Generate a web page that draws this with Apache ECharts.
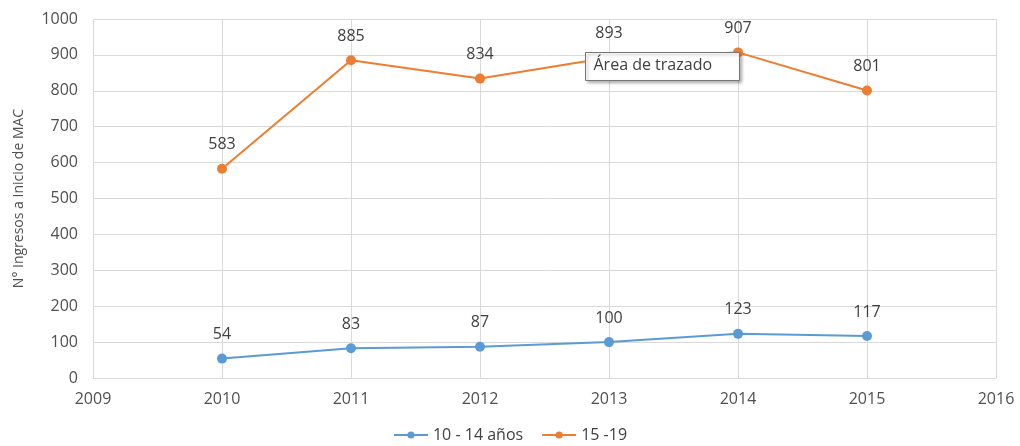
<!DOCTYPE html>
<html>
<head>
<meta charset="utf-8">
<script src="https://cdn.jsdelivr.net/npm/echarts@6/dist/echarts.min.js"></script>
<style>
  html, body { margin: 0; padding: 0; background: #fff; }
  #main { width: 1020px; height: 446px; }
</style>
</head>
<body>
<div id="main"></div>
<script>
// datos
var years = [2010, 2011, 2012, 2013, 2014, 2015];
var serie10a14 = [54, 83, 87, 100, 123, 117];
var serie15a19 = [583, 885, 834, 893, 907, 801];
var nombres = ['10 - 14 años', '15 -19'];

var myChart = echarts.init(document.getElementById('main'));

function pares(vals) {
    return years.map(function (y, i) { return [y, vals[i]]; });
}

var etiqueta = {
    show: true,
    position: 'top',
    distance: 11,
    color: '#404040',
    fontSize: 16,
    fontFamily: 'Open Sans',
    formatter: function (p) { return String(p.value[1]); }
};

var option = {
    backgroundColor: '#fff',
    textStyle: { fontFamily: 'Open Sans' },
    grid: { left: 93, right: 24, top: 19, bottom: 68 },
    legend: {
        bottom: -2,
        left: 'center',
        itemWidth: 34,
        itemHeight: 9,
        itemGap: 18,
        textStyle: { color: '#404040', fontSize: 16 },
        data: nombres
    },
    xAxis: {
        type: 'value',
        min: 2009,
        max: 2016,
        interval: 1,
        axisLine: { show: true, lineStyle: { color: '#d9d9d9' } },
        axisTick: { show: false },
        splitLine: { show: true, lineStyle: { color: '#d9d9d9' } },
        axisLabel: { color: '#505050', fontSize: 16, margin: 13, formatter: function (v) { return String(v); } }
    },
    yAxis: {
        type: 'value',
        min: 0,
        max: 1000,
        interval: 100,
        name: 'N° Ingresos a Inicio de MAC',
        nameLocation: 'middle',
        nameGap: 67,
        nameTextStyle: { color: '#505050', fontSize: 14 },
        axisLine: { show: false },
        axisTick: { show: false },
        splitLine: { lineStyle: { color: '#d9d9d9' } },
        axisLabel: { color: '#505050', fontSize: 16, margin: 15, formatter: function (v) { return String(v); } }
    },
    series: [
        {
            name: nombres[0],
            type: 'line',
            data: pares(serie10a14),
            symbol: 'circle',
            symbolSize: 10,
            color: '#5B9BD5',
            lineStyle: { width: 2 },
            label: etiqueta
        },
        {
            name: nombres[1],
            type: 'line',
            data: pares(serie15a19),
            symbol: 'circle',
            symbolSize: 10,
            color: '#ED7D31',
            lineStyle: { width: 2 },
            label: etiqueta
        }
    ],
    graphic: [
        {
            type: 'group',
            left: 585,
            top: 52,
            z: 100,
            zlevel: 1,
            children: [
                {
                    type: 'rect',
                    z: 100,
                    shape: { x: 0, y: 0, width: 154, height: 28 },
                    style: {
                        fill: '#fff',
                        stroke: '#767676',
                        lineWidth: 1,
                        shadowBlur: 3,
                        shadowOffsetX: 2,
                        shadowOffsetY: 2,
                        shadowColor: 'rgba(0,0,0,0.3)'
                    }
                },
                {
                    type: 'text',
                    z: 101,
                    x: 8,
                    y: 5,
                    style: { text: 'Área de trazado', fill: '#404040', fontSize: 16, fontFamily: 'Open Sans' }
                }
            ]
        }
    ]
};

myChart.setOption(option);
</script>
</body>
</html>
